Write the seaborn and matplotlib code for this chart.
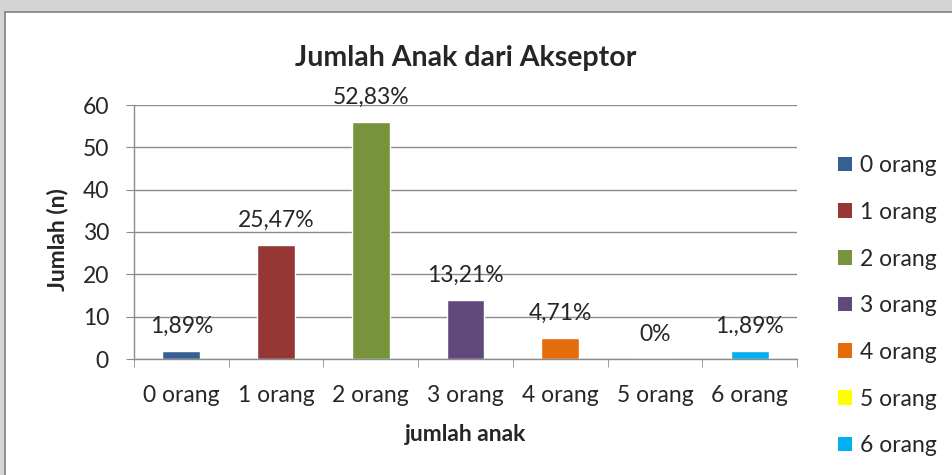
import matplotlib
matplotlib.use("Agg")
import pandas as pd
import seaborn as sns
from matplotlib import pyplot as plt
from matplotlib.patches import Patch, Rectangle

categories = ["0 orang", "1 orang", "2 orang", "3 orang", "4 orang", "5 orang", "6 orang"]
jumlah = [2, 27, 56, 14, 5, 0, 2]
persen = ["1,89%", "25,47%", "52,83%", "13,21%", "4,71%", "0%", "1.,89%"]
colors = ["#376092", "#953735", "#77933C", "#604A7B", "#E46C0A", "#FFFF00", "#00B0F0"]

df = pd.DataFrame({"kategori": categories, "jumlah": jumlah})

sns.set_style("white")
plt.rcParams["font.family"] = ["Lato", "DejaVu Sans"]

fig = plt.figure(figsize=(9.52, 4.75), dpi=100, facecolor="#d4d4d4")
# white chart area with border
fig.patches.append(Rectangle((5 / 952, -0.01), 1.0, (475 - 12) / 475 + 0.01,
                             transform=fig.transFigure, facecolor="white",
                             edgecolor="#7f7f7f", linewidth=1.2, zorder=-5))

ax = fig.add_axes([134 / 952, (475 - 359) / 475, (797 - 134) / 952, (359 - 105) / 475])
ax.set_zorder(2)
ax.patch.set_alpha(0)

sns.barplot(data=df, x="kategori", y="jumlah", hue="kategori", palette=colors,
            width=0.4, legend=False, ax=ax, saturation=1)

ax.set_xlim(-0.5, 6.5)
ax.set_ylim(0, 60)
ax.set_yticks(range(0, 61, 10))
ax.yaxis.grid(True, color="#8c8c8c", linewidth=1)
ax.set_axisbelow(True)
for s in ["top", "right"]:
    ax.spines[s].set_visible(False)
for s in ["left", "bottom"]:
    ax.spines[s].set_color("#8c8c8c")
    ax.spines[s].set_linewidth(1)

ax.tick_params(axis="y", which="major", left=True, length=6, color="#8c8c8c",
               labelsize=16.5, pad=12)
ax.tick_params(axis="x", which="major", bottom=False, labelsize=16.5, pad=15)
ax.set_xticks([i + 0.5 for i in range(-1, 7)], minor=True)
ax.tick_params(axis="x", which="minor", bottom=True, length=6, color="#8c8c8c")

for i, (v, lab) in enumerate(zip(jumlah, persen)):
    ax.annotate(lab, (i, v), xytext=(0, 10), textcoords="offset points",
                ha="center", va="bottom", fontsize=16.5)

ax.set_xlabel("jumlah anak", fontsize=16.5, fontweight="bold", labelpad=13)
ax.set_ylabel("")
fig.text(58 / 952, (475 - 240) / 475, "Jumlah (n)", rotation=90, ha="center", va="center",
         fontsize=16.5, fontweight="bold")
ax.set_title("Jumlah Anak dari Akseptor", fontsize=20.5, fontweight="bold", pad=28)

handles = [Patch(facecolor=c, edgecolor="none") for c in colors]
fig.legend(handles, categories, loc="upper left", bbox_to_anchor=(829 / 952, (475 - 146) / 475),
           frameon=False, fontsize=16.5, handlelength=0.6, handleheight=0.6,
           handletextpad=0.35, labelspacing=1.12, borderaxespad=0)

fig.savefig("out.png", dpi=100, facecolor=fig.get_facecolor())
